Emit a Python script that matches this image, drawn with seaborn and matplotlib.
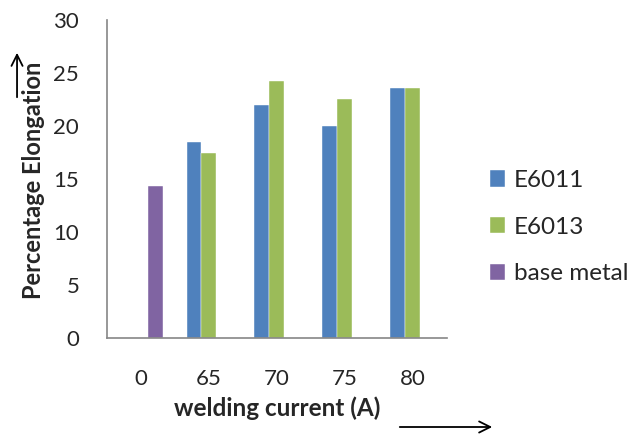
import numpy as np
import pandas as pd
import matplotlib
matplotlib.use("Agg")
import matplotlib.pyplot as plt
import seaborn as sns

# data
currents = ["0", "65", "70", "75", "80"]
e6011 = [None, 18.5, 21.95, 20.05, 23.6]
e6013 = [None, 17.45, 24.3, 22.6, 23.6]
base_metal = [14.35, None, None, None, None]
series = ["E6011", "E6013", "base metal"]
colors = ["#4F81BD", "#9BBB59", "#8064A2"]

rows = []
for name, vals in zip(series, [e6011, e6013, base_metal]):
    for cur, v in zip(currents, vals):
        if v is not None:
            rows.append({"current": cur, "series": name, "value": v})
df = pd.DataFrame(rows)

sns.set_style("white")
plt.rcParams["font.family"] = ["Lato", "DejaVu Sans"]

fig = plt.figure(figsize=(6.31, 4.37), dpi=100)
ax = fig.add_axes([0.1696, 0.2265, 0.5385, 0.7275])

sns.barplot(data=df, x="current", y="value", hue="series",
            order=currents, hue_order=series, palette=colors,
            width=0.66, dodge=True, ax=ax, legend=True, errorbar=None,
            saturation=1, edgecolor="white", linewidth=0.3)

ax.set_ylim(0, 30)
ax.set_yticks(range(0, 31, 5))
ax.set_xlim(-0.5, 4.5)
ax.tick_params(axis="y", direction="out", length=8, width=1, color="#868686",
               labelsize=16, pad=12)
ax.tick_params(axis="x", length=0, labelsize=16, pad=22)
for s in ["top", "right"]:
    ax.spines[s].set_visible(False)
for s in ["left", "bottom"]:
    ax.spines[s].set_color("#868686")
    ax.spines[s].set_linewidth(1.2)

ax.set_xlabel("")
ax.set_ylabel("")
fig.text(0.053, 0.588, "Percentage Elongation", rotation=90, ha="center",
         va="center", fontsize=17, fontweight="bold")
fig.text(0.44, 0.066, "welding current (A)", ha="center", va="center",
         fontsize=17.5, fontweight="bold")

# arrows beside the axis titles
fig.patches.append(matplotlib.patches.FancyArrowPatch(
    (0.027, 1 - 100 / 437), (0.027, 1 - 50 / 437), transform=fig.transFigure,
    arrowstyle="->", mutation_scale=20, color="black", lw=1.3))
fig.patches.append(matplotlib.patches.FancyArrowPatch(
    (397 / 631, 1 - 427 / 437), (495 / 631, 1 - 427 / 437),
    transform=fig.transFigure, arrowstyle="->", mutation_scale=20,
    color="black", lw=1.3))

leg = ax.legend(loc="center left", bbox_to_anchor=(1.126, 0.349),
                frameon=False, fontsize=17.5, handlelength=0.64,
                handleheight=0.64, labelspacing=1.05, handletextpad=0.35,
                borderpad=0, borderaxespad=0)

fig.savefig("out.png", dpi=100)
